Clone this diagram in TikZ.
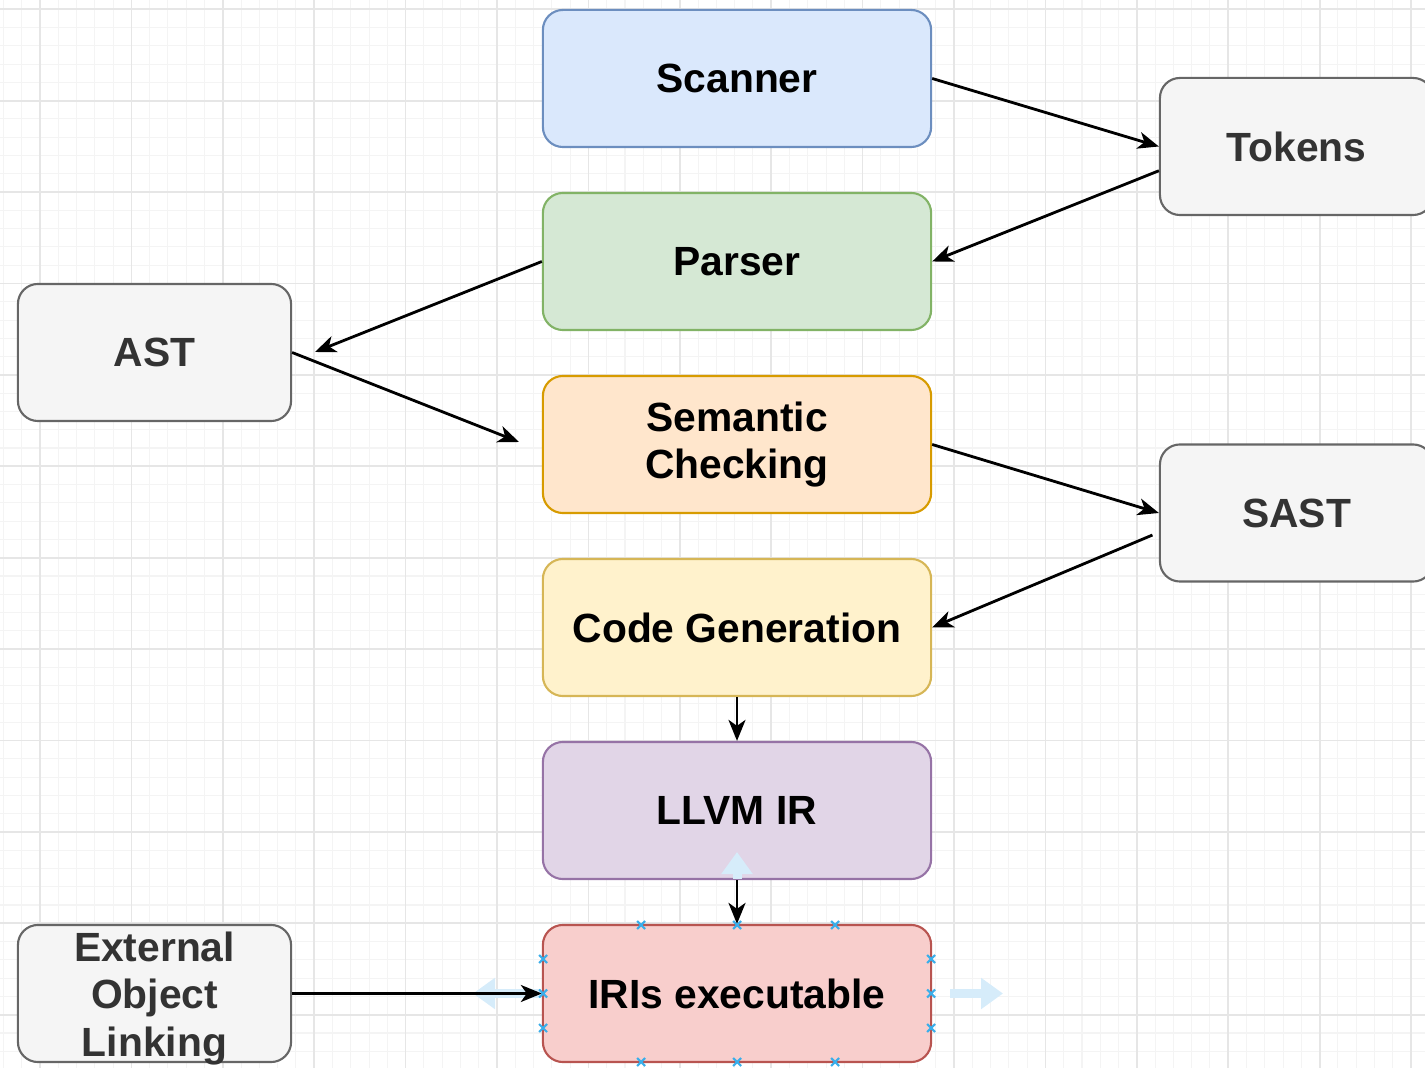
\documentclass[tikz,border=0pt]{standalone}
\usepackage{fontspec}
\setmainfont{Liberation Sans}
\usetikzlibrary{positioning}
\usetikzlibrary{arrows.meta}
\definecolor{scanfill}{HTML}{DAE8FC}\definecolor{scanline}{HTML}{6C8EBF}
\definecolor{parsefill}{HTML}{D5E8D4}\definecolor{parseline}{HTML}{82B366}
\definecolor{semfill}{HTML}{FFE6CC}\definecolor{semline}{HTML}{D79B00}
\definecolor{genfill}{HTML}{FFF2CC}\definecolor{genline}{HTML}{D6B656}
\definecolor{irfill}{HTML}{E1D5E7}\definecolor{irline}{HTML}{9673A6}
\definecolor{exefill}{HTML}{F8CECC}\definecolor{exeline}{HTML}{B85450}
\definecolor{datafill}{HTML}{F5F5F5}\definecolor{dataline}{HTML}{666666}
\definecolor{datatext}{HTML}{333333}
\definecolor{gridlight}{HTML}{F4F4F4}\definecolor{griddark}{HTML}{E6E6E6}
\definecolor{hoverblue}{HTML}{D6ECFA}\definecolor{xblue}{HTML}{3AAEEA}
\tikzset{
    stagetext/.style = {font=\bfseries\fontsize{11.6}{13.6}\selectfont},
    stage/.style = {rectangle, rounded corners=0.2cm, line width=0.6pt, minimum width=3.88cm, minimum height=1.37cm, align=center, stagetext},
    stagescan/.style = {stage, draw=scanline, fill=scanfill},
    stageparse/.style = {stage, draw=parseline, fill=parsefill},
    stagesem/.style = {stage, draw=semline, fill=semfill},
    stagegen/.style = {stage, draw=genline, fill=genfill},
    stageir/.style = {stage, draw=irline, fill=irfill},
    stageexe/.style = {stage, draw=exeline, fill=exefill},
    datanode/.style = {stage, draw=dataline, fill=datafill, text=datatext, minimum width=2.73cm},
    edgen/.style = {-{Stealth[length=0.21cm,width=0.17cm,inset=0.06cm]}, line width=0.8pt},
    gridminor/.style = {draw=gridlight, line width=0.3pt},
    gridmajor/.style = {draw=griddark, line width=0.5pt},
    hover/.style = {-{Triangle[length=0.22cm,width=0.3cm]}, line width=0.09cm, draw=hoverblue},
    xmark/.style = {draw=xblue, line width=0.6pt}
}
\begin{document}
\begin{tikzpicture}[x=0.01cm, y=-0.01cm]
\useasboundingbox (0,0) rectangle (1425,1068);
\clip (0,0) rectangle (1425,1068);
% grid
\foreach \k in {0,...,77} \draw[gridminor] ({3.44+18.28*\k},0) -- ({3.44+18.28*\k},1068);
\foreach \k in {-1,...,58} \draw[gridminor] (0,{9.3+18.28*\k}) -- (1425,{9.3+18.28*\k});
\foreach \k in {0,...,15} \draw[gridmajor] ({40+91.4*\k},0) -- ({40+91.4*\k},1068);
\foreach \k in {0,...,11} \draw[gridmajor] (0,{9.3+91.4*\k}) -- (1425,{9.3+91.4*\k});
%
\node[stagescan] at (737, 78.5) (scan) {Scanner};
\node[stageparse] at (737, 261.5) (parse) {Parser};
\node[stagesem] at (737, 444.5) (sem) {Semantic\\Checking};
\node[stagegen] at (737, 627.5) (gen) {Code Generation};
\node[stageir] at (737, 810.5) (ir) {LLVM IR};
\node[stageexe] at (737, 993.5) (exe) {IRIs executable};
\node[datanode] at (1296.5, 146.5) (tok) {Tokens};
\node[datanode] at (1296.5, 513) (sast) {SAST};
\node[datanode] at (154.5, 352.5) (ast) {AST};
\node[datanode, label={[stagetext, align=center, text=datatext, yshift=-0.05cm]center:External\\Object\\Linking}] at (154.5, 993.5) (ext) {};
%
\coordinate (astin) at (315, 352);
\coordinate (semin) at (519, 442);
%
\draw[hover] (737, 879) -- (737, 852);
\draw[hover] (540, 993.5) -- (473, 993.5);
\draw[hover] (950, 993.5) -- (1003, 993.5);
%
\draw[edgen] (scan.east) -- (tok.west);
\draw[edgen] (tok.190) -- (parse.east);
\draw[edgen] (parse.west) -- (astin);
\draw[edgen] (ast.east) -- (semin);
\draw[edgen] (sem.east) -- (sast.west);
\draw[edgen, shorten <=0.07cm] (sast.188) -- (gen.east);
\draw[edgen] (gen.south) -- (ir.north);
\draw[edgen] (ir.south) -- (exe.north);
\draw[edgen] (ext.east) -- (exe.west);
%
\foreach \x/\y in {641/925, 737/925, 835/925, 641/1062, 737/1062, 835/1062, 543/959, 543/993.5, 543/1028, 931/959, 931/993.5, 931/1028}
  \draw[xmark] ({\x-4},{\y-4}) -- ({\x+4},{\y+4}) ({\x-4},{\y+4}) -- ({\x+4},{\y-4});

\end{tikzpicture}
\end{document}
